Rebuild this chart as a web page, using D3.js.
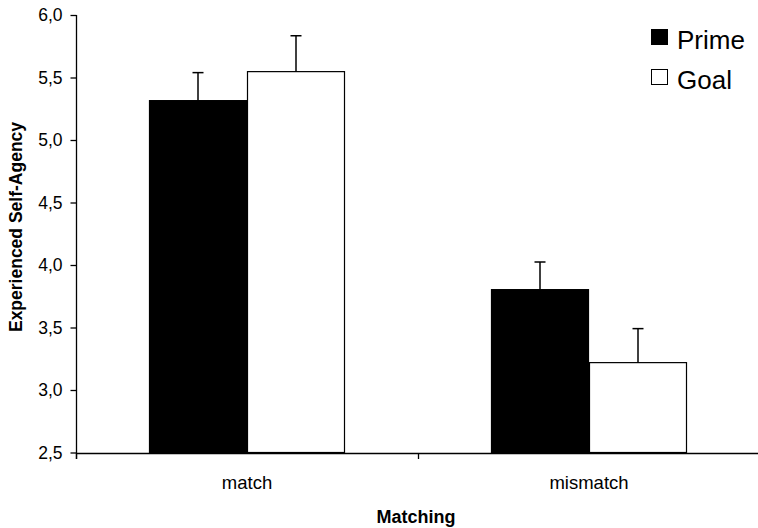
<!DOCTYPE html>
<html><head><meta charset="utf-8">
<script src="https://cdn.jsdelivr.net/npm/d3@7/dist/d3.min.js"></script>
<style>body{margin:0;background:#fff}svg{display:block;font-family:"Liberation Sans",Arial,sans-serif}</style>
</head><body>
<svg id="c" width="758" height="528"></svg>
<script>
const categories = ["match", "mismatch"];
const seriesNames = ["Prime", "Goal"];
const primeValues = [5.315, 3.803];
const goalValues = [5.547, 3.219];
const primeErrors = [0.224, 0.221];
const goalErrors = [0.287, 0.272];
const yTicks = [2.5, 3.0, 3.5, 4.0, 4.5, 5.0, 5.5, 6.0];
const colors = {Prime: "#000000", Goal: "#ffffff"};

const svg = d3.select("#c");
const x0 = d3.scaleBand().domain(categories).range([76, 760]).paddingInner(0).paddingOuter(0);
const x1 = d3.scaleBand().domain(seriesNames).range([0, 196]);
const y = d3.scaleLinear().domain([2.5, 6.0]).range([452.5, 15]);

const data = [];
categories.forEach((c, i) => {
  data.push({cat: c, s: "Prime", v: primeValues[i], e: primeErrors[i]});
  data.push({cat: c, s: "Goal", v: goalValues[i], e: goalErrors[i]});
});
const off = (x0.bandwidth() - 196) / 2;
const bx = d => x0(d.cat) + off + x1(d.s);

// bars
svg.append("g").selectAll("rect").data(data).join("rect")
  .attr("x", d => bx(d) + 0.5)
  .attr("y", d => y(d.v))
  .attr("width", x1.bandwidth() - 1)
  .attr("height", d => y(2.5) - y(d.v))
  .attr("fill", d => colors[d.s])
  .attr("stroke", "#000").attr("stroke-width", 1.2);

// error bars
const eg = svg.append("g").attr("stroke", "#000").attr("stroke-width", 1.5);
data.forEach(d => {
  const cx = bx(d) + x1.bandwidth() / 2;
  eg.append("line").attr("x1", cx).attr("x2", cx).attr("y1", y(d.v)).attr("y2", y(d.v + d.e));
  eg.append("line").attr("x1", cx - 5.5).attr("x2", cx + 5.5).attr("y1", y(d.v + d.e)).attr("y2", y(d.v + d.e));
});

// y axis
const ya = svg.append("g").attr("transform", "translate(76.5,0)")
  .call(d3.axisLeft(y).tickValues(yTicks).tickSize(6).tickPadding(8)
    .tickFormat(d => d3.format(".1f")(d).replace(".", ",")));
ya.select(".domain").attr("d", "M0,15V459").attr("stroke-width", 1.3);
ya.selectAll("line").attr("stroke-width", 1.3);
ya.selectAll("text").attr("font-size", 17.5).attr("font-family", "Liberation Sans, Arial, sans-serif").attr("fill", "#000");

// x axis
const xa = svg.append("g").attr("transform", "translate(0,453)")
  .call(d3.axisBottom(x0).tickSize(0).tickPadding(0).tickFormat(() => ""));
xa.select(".domain").attr("stroke-width", 1.3);
xa.selectAll(".tick").remove();
const bounds = [x0.range()[0], x0("mismatch")];
xa.selectAll("line.sep").data(bounds).join("line").attr("class", "sep")
  .attr("x1", d => Math.round(d) + 0.5).attr("x2", d => Math.round(d) + 0.5)
  .attr("y1", 0).attr("y2", 6).attr("stroke", "#000").attr("stroke-width", 1.3);
svg.append("g").selectAll("text").data(categories).join("text")
  .attr("x", d => x0(d) + x0.bandwidth() / 2)
  .attr("y", 489)
  .attr("text-anchor", "middle").attr("font-size", 18.5).text(d => d);

// axis titles
svg.append("text").attr("x", 416).attr("y", 523).attr("text-anchor", "middle")
  .attr("font-size", 18).attr("font-weight", "bold").text("Matching");
svg.append("text").attr("transform", "translate(22,227) rotate(-90)").attr("text-anchor", "middle")
  .attr("font-size", 17.5).attr("font-weight", "bold").text("Experienced Self-Agency");

// legend
const lg = svg.append("g");
seriesNames.forEach((s, i) => {
  lg.append("rect").attr("x", 651.5).attr("y", 29.5 + i * 40).attr("width", 16).attr("height", 15)
    .attr("fill", colors[s]).attr("stroke", "#000").attr("stroke-width", 1);
  lg.append("text").attr("x", 677).attr("y", 49 + i * 40).attr("font-size", 26).text(s);
});
</script>
</body></html>
